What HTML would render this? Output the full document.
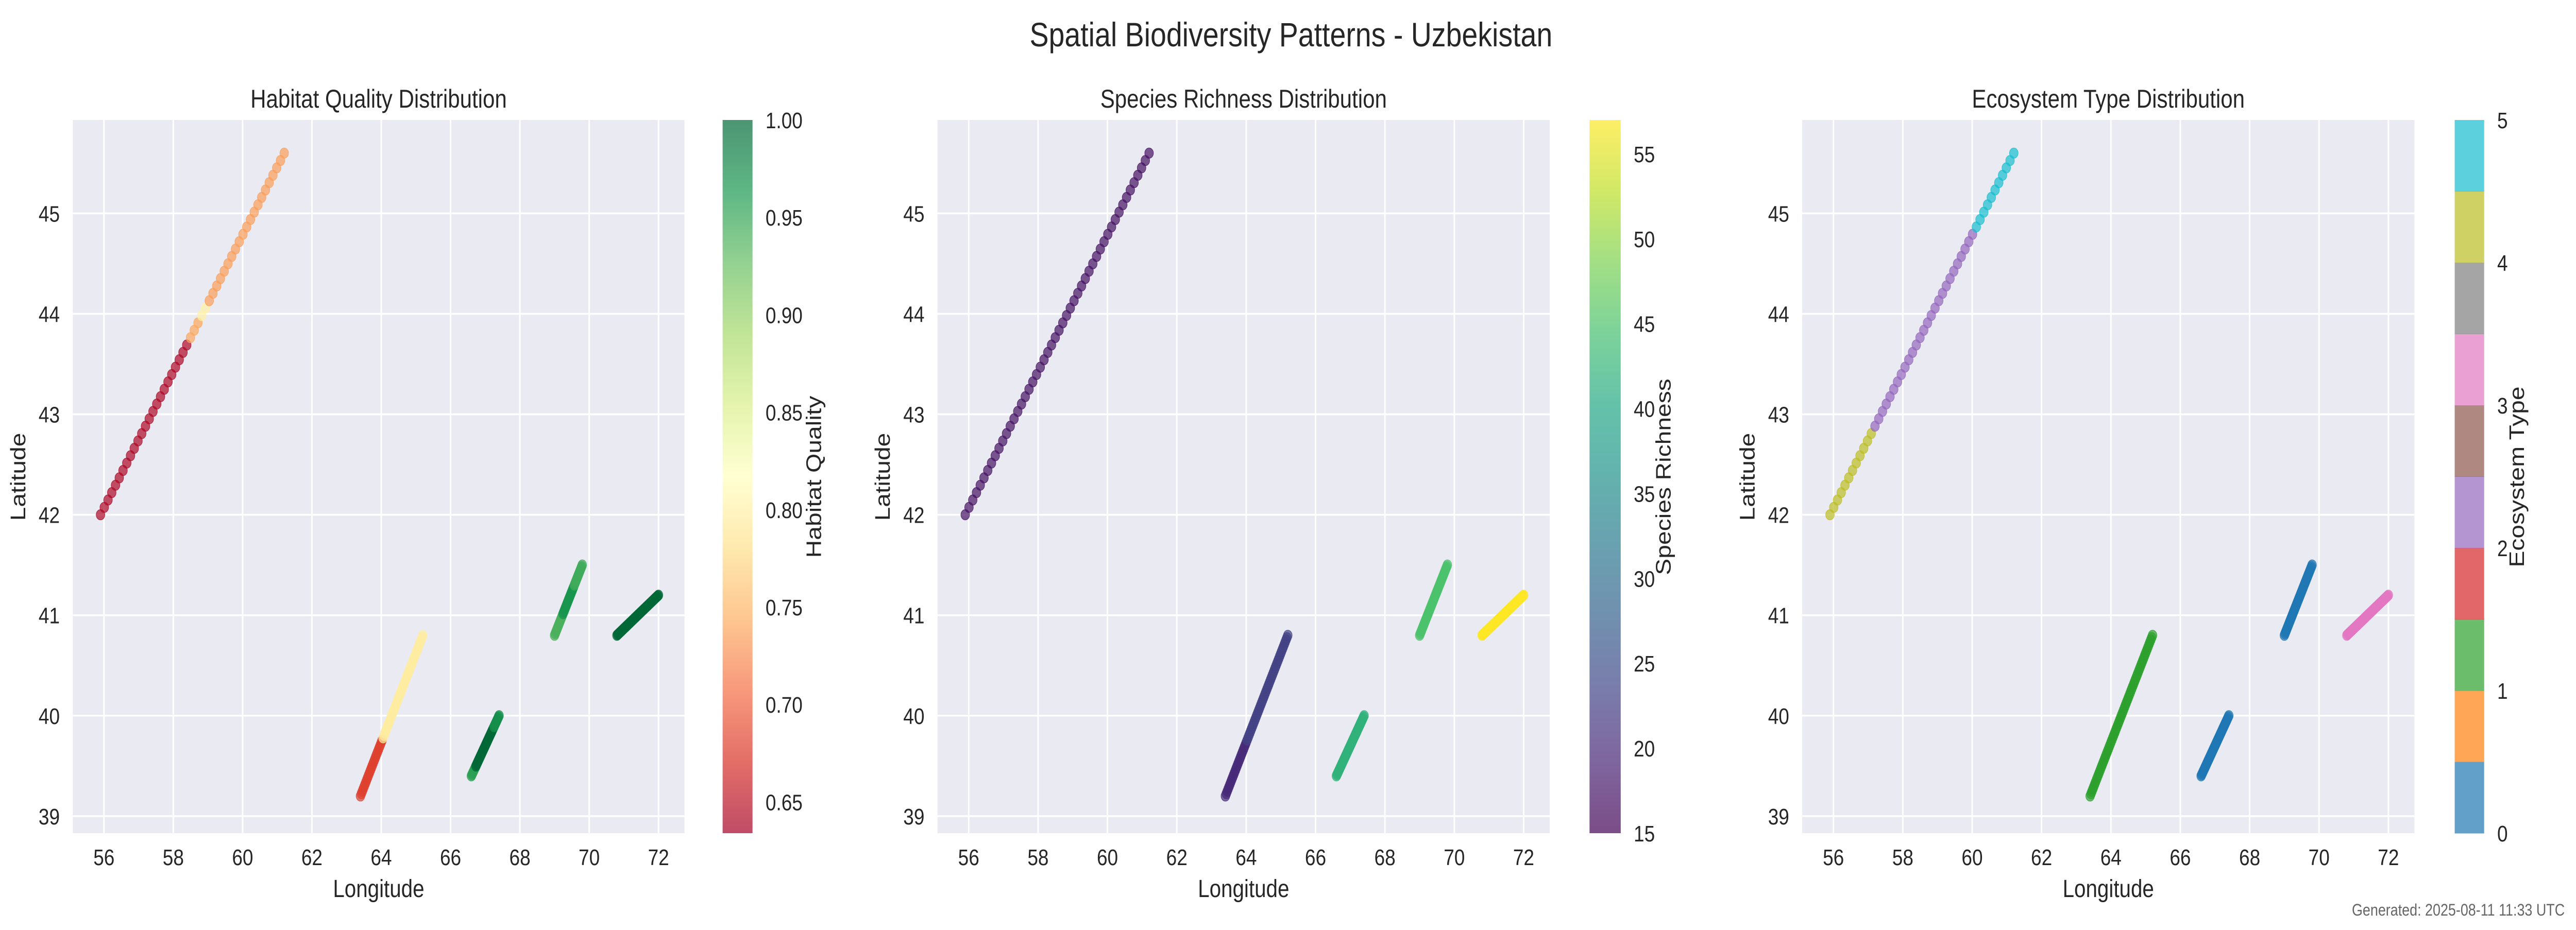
<!DOCTYPE html>
<html><head><meta charset="utf-8">
<style>
html,body{margin:0;padding:0;background:#fff;width:100%;height:100%;overflow:hidden;}
svg{display:block;position:absolute;left:0;top:0;width:100vw;height:100vh;font-family:"Liberation Sans",Arial,sans-serif;}
</style></head>
<body>
<svg id="fig" viewBox="0 0 5946 1806" preserveAspectRatio="none" xmlns="http://www.w3.org/2000/svg">
<defs>
<linearGradient id="gRdYlGn" x1="0" y1="1" x2="0" y2="0">
<stop offset="0" stop-color="#a50026"/><stop offset="0.1" stop-color="#d73027"/><stop offset="0.2" stop-color="#f46d43"/><stop offset="0.3" stop-color="#fdae61"/><stop offset="0.4" stop-color="#fee08b"/><stop offset="0.5" stop-color="#ffffbf"/><stop offset="0.6" stop-color="#d9ef8b"/><stop offset="0.7" stop-color="#a6d96a"/><stop offset="0.8" stop-color="#66bd63"/><stop offset="0.9" stop-color="#1a9850"/><stop offset="1" stop-color="#006837"/>
</linearGradient>
<linearGradient id="gViridis" x1="0" y1="1" x2="0" y2="0">
<stop offset="0" stop-color="#440154"/><stop offset="0.1" stop-color="#482475"/><stop offset="0.2" stop-color="#414487"/><stop offset="0.3" stop-color="#355f8d"/><stop offset="0.4" stop-color="#2a788e"/><stop offset="0.5" stop-color="#21918c"/><stop offset="0.6" stop-color="#22a884"/><stop offset="0.7" stop-color="#44bf70"/><stop offset="0.8" stop-color="#7ad151"/><stop offset="0.9" stop-color="#bddf26"/><stop offset="1" stop-color="#fde725"/>
</linearGradient>
</defs>
<text x="2980" y="90" font-size="66" text-anchor="middle" fill="#262626">Spatial Biodiversity Patterns - Uzbekistan</text>
<text x="5920" y="1778" font-size="32" text-anchor="end" fill="#666">Generated: 2025-08-11 11:33 UTC</text>
</svg>
<script>
// ---- data ----
const segStartLon = [55.9, 63.4, 66.6, 69.0, 70.8];
const segStartLat = [42.0, 39.2, 39.4, 40.8, 40.8];
const segEndLon   = [61.2, 65.2, 67.4, 69.8, 72.0];
const segEndLat   = [45.6, 40.8, 40.0, 41.5, 41.2];
const segCount    = [50, 70, 50, 50, 60];
// value runs per segment: [upper-fraction-bound, value]
const habitatRuns = [
  [[0.485,0.64],[0.55,0.74],[0.59,0.80],[1.01,0.735]],
  [[0.36,0.68],[1.01,0.795]],
  [[0.15,0.955],[0.8,1.0],[1.01,0.97]],
  [[0.3,0.94],[0.7,0.965],[1.01,0.945]],
  [[1.01,1.0]]
];
const richnessRuns = [
  [[1.01,17]],
  [[0.34,20],[1.01,23]],
  [[1.01,42]],
  [[1.01,45]],
  [[1.01,57]]
];
const ecoRuns = [
  [[0.225,4],[0.79,2],[1.01,5]],
  [[1.01,1]],
  [[1.01,0]],
  [[1.01,0]],
  [[1.01,3]]
];
const lonTicks = [56,58,60,62,64,66,68,70,72];
const latTicks = [39,40,41,42,43,44,45];
const habTicks = ["0.65","0.70","0.75","0.80","0.85","0.90","0.95","1.00"];
const richTicks = ["15","20","25","30","35","40","45","50","55"];
const ecoTicks = ["0","1","2","3","4","5"];

const NS="http://www.w3.org/2000/svg";
const fig=document.getElementById('fig');
function el(tag,attrs,parent){const e=document.createElementNS(NS,tag);for(const k in attrs)e.setAttribute(k,attrs[k]);(parent||fig).appendChild(e);return e;}
function hex(c){return [parseInt(c.slice(1,3),16),parseInt(c.slice(3,5),16),parseInt(c.slice(5,7),16)];}
function cmapFn(stops){const s=stops.map(hex);return t=>{t=Math.max(0,Math.min(1,t));const p=t*(s.length-1);const i=Math.min(s.length-2,Math.floor(p));const f=p-i;const c=s[i].map((v,k)=>Math.round(v+(s[i+1][k]-v)*f));return `rgb(${c[0]},${c[1]},${c[2]})`;};}
const rdylgn=cmapFn(["#a50026","#d73027","#f46d43","#fdae61","#fee08b","#ffffbf","#d9ef8b","#a6d96a","#66bd63","#1a9850","#006837"]);
const viridis=cmapFn(["#440154","#482475","#414487","#355f8d","#2a788e","#21918c","#22a884","#44bf70","#7ad151","#bddf26","#fde725"]);
const tab10=["#1f77b4","#ff7f0e","#2ca02c","#d62728","#9467bd","#8c564b","#e377c2","#7f7f7f","#bcbd22","#17becf"];

const LONMIN=55.1, LONMAX=72.75, LATMIN=38.83, LATMAX=45.93;
const yTop=233, yBot=1618;
const yOf=lat=>yTop+(LATMAX-lat)/(LATMAX-LATMIN)*(yBot-yTop);

const panels=[
 {name:'habitat',title:'Habitat Quality Distribution',x56:240,x72:1520,cbL:1668,cbR:1737,cbLabel:'Habitat Quality',cbLabelX:1895,runs:habitatRuns,vmin:0.634,vmax:1.0,ticks:habTicks,grad:'gRdYlGn',color:v=>rdylgn((v-0.634)/(1.0-0.634))},
 {name:'richness',title:'Species Richness Distribution',x56:2236,x72:3517,cbL:3669,cbR:3741,cbLabel:'Species Richness',cbLabelX:3856,runs:richnessRuns,vmin:15,vmax:57,ticks:richTicks,grad:'gViridis',color:v=>viridis((v-15)/42)},
 {name:'ecosystem',title:'Ecosystem Type Distribution',x56:4232,x72:5513,cbL:5666,cbR:5734,cbLabel:'Ecosystem Type',cbLabelX:5826,runs:ecoRuns,vmin:0,vmax:5,ticks:ecoTicks,grad:null,color:v=>tab10[Math.min(9,Math.floor(v/5*10))]}
];

panels.forEach(p=>{
  const sc=(p.x72-p.x56)/16;
  const xOf=lon=>p.x56+(lon-56)*sc;
  const L=xOf(LONMIN), R=xOf(LONMAX);
  const g=el('g',{});
  
  
  const bg=el('rect',{x:L,y:yTop,width:R-L,height:yBot-yTop,fill:'#eaeaf2'},g);
  
  
  lonTicks.forEach(t=>{
    const x=xOf(t);
    const ln=el('line',{x1:x,x2:x,y1:yTop,y2:yBot,stroke:'#fff','stroke-width':3.5},g);
    
    
    const tx=el('text',{x:x,y:1680,'font-size':44,'text-anchor':'middle',fill:'#262626'},g);
    tx.textContent=t;
    
    
  });
  latTicks.forEach(t=>{
    const y=yOf(t);
    const ln=el('line',{x1:L,x2:R,y1:y,y2:y,stroke:'#fff','stroke-width':3.5},g);
    
    
    const tx=el('text',{x:L-30,y:y+16,'font-size':44,'text-anchor':'end',fill:'#262626'},g);
    tx.textContent=t;
    
    
  });
  for(let s=0;s<segStartLon.length;s++){
    const n=segCount[s];
    for(let i=0;i<n;i++){
      const f=i/(n-1);
      const lon=segStartLon[s]+(segEndLon[s]-segStartLon[s])*f;
      const lat=segStartLat[s]+(segEndLat[s]-segStartLat[s])*f;
      let v=p.runs[s][p.runs[s].length-1][1];
      for(const r of p.runs[s]){if(f<=r[0]){v=r[1];break;}}
      const c=el('circle',{cx:xOf(lon),cy:yOf(lat),r:10,fill:p.color(v),'fill-opacity':0.7,stroke:p.color(v),'stroke-opacity':0.8,'stroke-width':1.2},g);
      
      
    }
  }
  const tt=el('text',{x:(L+R)/2,y:209,'font-size':50,'text-anchor':'middle',fill:'#262626'},g);
  tt.textContent=p.title;
  
  
  const xl=el('text',{x:(L+R)/2,y:1742,'font-size':48,'text-anchor':'middle',fill:'#262626'},g);
  xl.textContent='Longitude';
  
  
  const yx=L-110;
  const yl=el('text',{x:yx,y:926,'font-size':48,'text-anchor':'middle',fill:'#262626',transform:`rotate(-90 ${yx} 926)`},g);
  yl.textContent='Latitude';
  
  
  const cb=el('g',{},g);
  
  
  const cbOf=v=>yBot-(v-p.vmin)/(p.vmax-p.vmin)*(yBot-yTop);
  if(p.grad){
    el('rect',{x:p.cbL,y:yTop,width:p.cbR-p.cbL,height:yBot-yTop,fill:`url(#${p.grad})`,'fill-opacity':0.7},cb);
  } else {
    for(let k=0;k<10;k++){
      const y0=cbOf(k*0.5+0.5), y1=cbOf(k*0.5);
      const b=el('rect',{x:p.cbL,y:y0,width:p.cbR-p.cbL,height:y1-y0+0.5,fill:tab10[k],'fill-opacity':0.7},cb);
      
      
    }
  }
  p.ticks.forEach(t=>{
    const y=cbOf(parseFloat(t));
    const tx=el('text',{x:p.cbR+30,y:y+16,'font-size':44,fill:'#262626'},cb);
    tx.textContent=t;
    
    
  });
  const cx=p.cbLabelX;
  const cl=el('text',{x:cx,y:926,'font-size':48,'text-anchor':'middle',fill:'#262626',transform:`rotate(-90 ${cx} 926)`},cb);
  cl.textContent=p.cbLabel;
  
  
});
</script>
</body></html>
